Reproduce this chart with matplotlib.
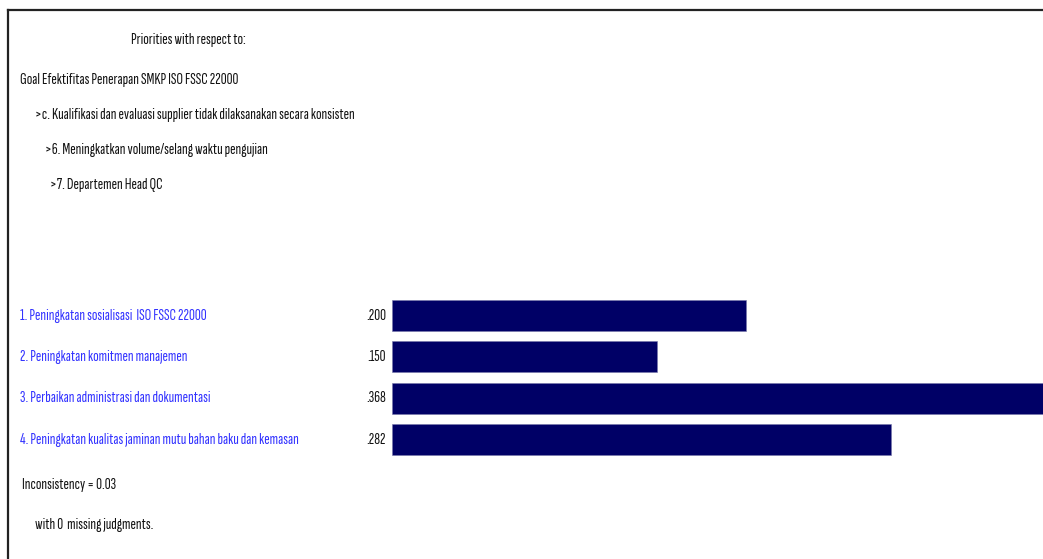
import matplotlib as mpl
import matplotlib.pyplot as plt
import matplotlib.transforms as mtransforms
from matplotlib.lines import Line2D

mpl.use('Agg')

header = [
    "Goal Efektifitas Penerapan SMKP ISO FSSC 22000",
    ">c. Kualifikasi dan evaluasi supplier tidak dilaksanakan secara konsisten",
    ">6. Meningkatkan volume/selang waktu pengujian",
    ">7. Departemen Head QC",
]
categories = [
    "1. Peningkatan sosialisasi  ISO FSSC 22000",
    "2. Peningkatan komitmen manajemen",
    "3. Perbaikan administrasi dan dokumentasi",
    "4. Peningkatan kualitas jaminan mutu bahan baku dan kemasan",
]
priorities = [0.200, 0.150, 0.368, 0.282]
value_labels = [".200", ".150", ".368", ".282"]
inconsistency = 0.03
missing = 0

W, H = 1043, 559
fam = ['Sofia Sans Extra Condensed', 'Saira Extra Condensed', 'Pathway Gothic One',
       'Barlow Condensed', 'DejaVu Sans']
fs = 11.8
fw = 'semibold'
fig = plt.figure(figsize=(W / 100, H / 100), dpi=100)

def fx(px):
    return px / W

def fy(py):
    return 1 - py / H

# frame lines (top and left)
fig.add_artist(Line2D([fx(8), fx(8)], [fy(10), 0], color='#222222', lw=1.6))
fig.add_artist(Line2D([fx(8), 1], [fy(10), fy(10)], color='#222222', lw=1.6))

fig.text(fx(188), fy(40), "Priorities with respect to:", ha='center', va='center',
         fontsize=fs, family=fam, weight=fw, color='#111111')
hx = [20, 35, 45, 50]
hy = [80, 115, 150, 185]
for t, x, y in zip(header, hx, hy):
    fig.text(fx(x), fy(y), t, ha='left', va='center', fontsize=fs, family=fam,
             weight=fw, color='#111111')

ax = fig.add_axes([fx(392), fy(460.2), 1 - fx(392), 165.3 / H])
ypos = list(range(len(categories)))
ax.barh(ypos, priorities, height=0.75, color='#000066', edgecolor='#7777aa', linewidth=0.4)
ax.set_xlim(0, max(priorities))
ax.set_ylim(len(categories) - 0.5, -0.5)
ax.axis('off')

trans = mtransforms.blended_transform_factory(fig.transFigure, ax.transData)
for i, (lab, v) in enumerate(zip(categories, value_labels)):
    ax.text(fx(20), i, lab, transform=trans, ha='left', va='center', color='#3333ff',
            fontsize=fs, family=fam, weight=fw, clip_on=False)
    ax.text(fx(386), i, v, transform=trans, ha='right', va='center', color='#111111',
            fontsize=fs, family=fam, weight=fw, clip_on=False)

fig.text(fx(22), fy(485), f"Inconsistency = {inconsistency:.2f}", ha='left', va='center',
         fontsize=fs, family=fam, weight=fw, color='#111111')
fig.text(fx(35), fy(525), f"with {missing}  missing judgments.", ha='left', va='center',
         fontsize=fs, family=fam, weight=fw, color='#111111')

fig.savefig('out.png', dpi=100)
